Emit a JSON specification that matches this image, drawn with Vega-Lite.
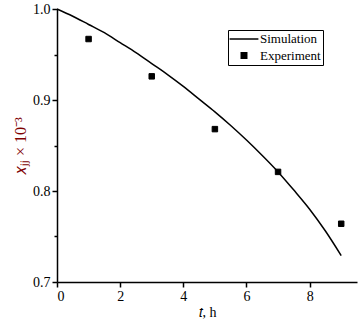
{
  "$schema": "https://vega.github.io/schema/vega-lite/v6.json",
  "width": 300,
  "height": 273,
  "autosize": {"type": "none"},
  "padding": {"left": 57, "top": 9, "right": 7, "bottom": 40},
  "background": "white",
  "config": {
    "font": "Liberation Serif",
    "view": {"stroke": null},
    "axis": {
      "labelFont": "Liberation Serif",
      "titleFont": "Liberation Serif",
      "labelFontSize": 14,
      "titleFontSize": 14,
      "titleFontWeight": "normal",
      "labelColor": "black",
      "titleColor": "black",
      "domainColor": "black",
      "tickColor": "black",
      "domainWidth": 1.5,
      "tickWidth": 1.5,
      "grid": false,
      "labelPadding": 2
    },
    "legend": {
      "labelFont": "Liberation Serif"
    }
  },
  "datasets": {
    "sim": [
      {"t": 0, "x": 1.0},
      {"t": 0.5, "x": 0.992},
      {"t": 1, "x": 0.983},
      {"t": 1.5, "x": 0.974},
      {"t": 2, "x": 0.963},
      {"t": 2.5, "x": 0.952},
      {"t": 3, "x": 0.94},
      {"t": 3.5, "x": 0.928},
      {"t": 4, "x": 0.915},
      {"t": 4.5, "x": 0.901},
      {"t": 5, "x": 0.887},
      {"t": 5.5, "x": 0.872},
      {"t": 6, "x": 0.856},
      {"t": 6.5, "x": 0.839},
      {"t": 7, "x": 0.821},
      {"t": 7.5, "x": 0.801},
      {"t": 8, "x": 0.78},
      {"t": 8.5, "x": 0.756},
      {"t": 9, "x": 0.729}
    ],
    "exp": [
      {"t": 1, "x": 0.967, "series": "Experiment"},
      {"t": 3, "x": 0.926, "series": "Experiment"},
      {"t": 5, "x": 0.868, "series": "Experiment"},
      {"t": 7, "x": 0.821, "series": "Experiment"},
      {"t": 9, "x": 0.764, "series": "Experiment"}
    ]
  },
  "layer": [
    {
      "data": {"name": "sim"},
      "mark": {"type": "line", "color": "black", "strokeWidth": 1.5, "interpolate": "monotone"},
      "encoding": {
        "x": {
          "field": "t", "type": "quantitative",
          "scale": {"domain": [0, 9.5], "nice": false},
          "axis": {
            "orient": "bottom",
            "values": [0, 1, 2, 3, 4, 5, 6, 7, 8, 9],
            "labelFont": "Liberation Serif",
            "labelExpr": "datum.value % 2 === 0 ? datum.label : ''",
            "tickSize": {"condition": {"test": "datum.value % 2 !== 0", "value": 3}, "value": 5},
            "title": "𝑡, h",
            "titlePadding": 2
          }
        },
        "y": {
          "field": "x", "type": "quantitative",
          "scale": {"domain": [0.7, 1.0], "nice": false, "zero": false},
          "axis": {
            "orient": "left",
            "values": [0.7, 0.75, 0.8, 0.85, 0.9, 0.95, 1.0],
            "format": ".1f",
            "labelFont": "Liberation Serif",
            "labelExpr": "round(datum.value * 100) % 10 === 0 ? datum.label : ''",
            "tickSize": {"condition": {"test": "round(datum.value * 100) % 10 !== 0", "value": 3}, "value": 5},
            "title": "𝑥ⱼⱼ × 10⁻³",
            "titleFontSize": 16,
            "titleColor": "#800000",
            "titlePadding": 4
          }
        }
      }
    },
    {
      "data": {"name": "exp"},
      "mark": {"type": "point", "filled": false, "fill": "black", "stroke": "black", "strokeWidth": 1, "opacity": 1, "fillOpacity": 1},
      "encoding": {
        "x": {"field": "t", "type": "quantitative"},
        "y": {"field": "x", "type": "quantitative"},
        "size": {
          "field": "series", "type": "nominal",
          "scale": {"domain": ["Simulation", "Experiment"], "range": [144, 30]}
        },
        "shape": {
          "field": "series", "type": "nominal",
          "scale": {"domain": ["Simulation", "Experiment"], "range": ["M-2.4,0L2.4,0", "square"]},
          "legend": {
            "title": null,
            "orient": "none",
            "legendX": 171,
            "legendY": 21,
            "strokeColor": "black",
            "fillColor": "white",
            "padding": 2,
            "symbolFillColor": "black",
            "symbolStrokeColor": "black",
            "symbolStrokeWidth": 1.5,
            "symbolOffset": 7,
            "labelFont": "Liberation Serif",
            "labelFontSize": 13,
            "labelColor": "black",
            "labelOffset": 9,
            "rowPadding": 3
          }
        }
      }
    }
  ]
}
